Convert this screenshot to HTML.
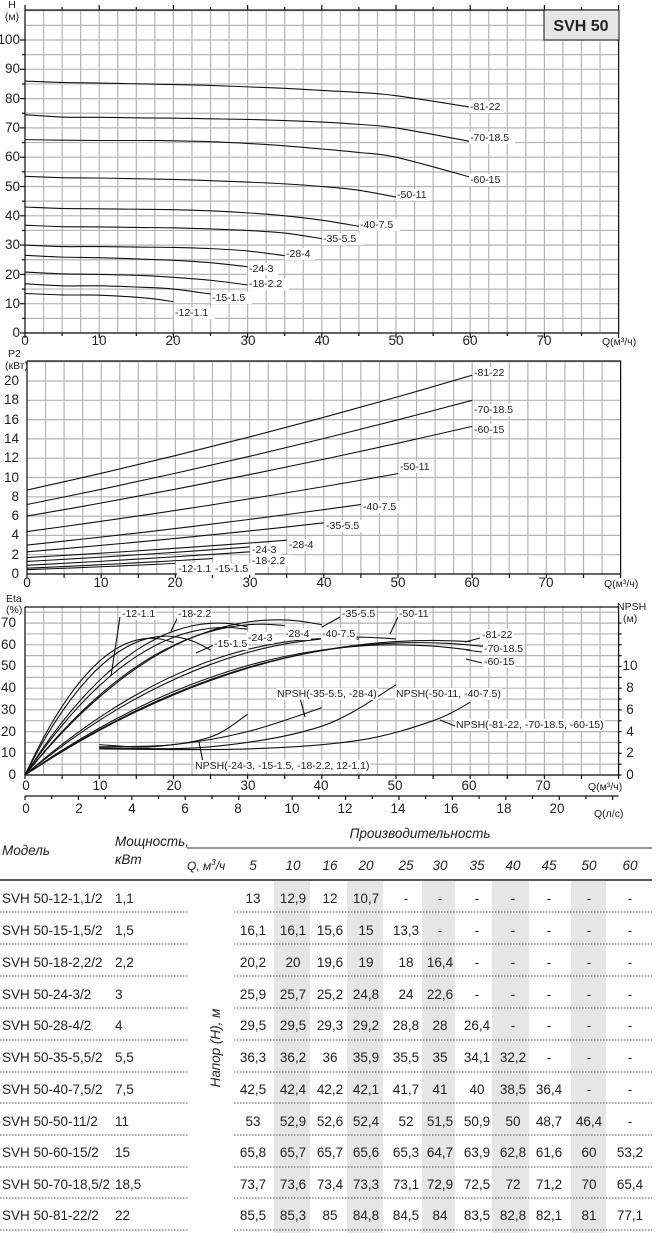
<!DOCTYPE html>
<html><head><meta charset="utf-8"><style>
html,body{margin:0;padding:0;background:#fff}
svg{display:block}
text{font-family:"Liberation Sans",sans-serif;fill:#222}
.s{font-size:10.5px}
.t{font-size:13.5px}
.i{font-style:italic}
</style></head><body>
<svg id="sv" width="656" height="1233" viewBox="0 0 656 1233" xmlns="http://www.w3.org/2000/svg">
<g id="bg"></g>
<g id="grid" stroke="#b4b4b4" stroke-width="1.2"></g>
<g id="curves" fill="none" stroke="#111" stroke-width="1.1"></g>
<g id="axes" stroke="#111" stroke-width="1.2" fill="none"></g>
<g id="lbl"></g>

<rect x="544" y="10" width="75" height="30" fill="#e6e6e6" stroke="#111"/>
<text x="581" y="31" text-anchor="middle" style="font-size:16px;font-weight:bold">SVH 50</text>
<text class="s" x="12" y="8" text-anchor="middle">H</text>
<text class="s" x="12" y="20" text-anchor="middle">(м)</text>
<g class="s" text-anchor="end">
<text x="20" y="337">0</text><text x="20" y="308">10</text><text x="20" y="279">20</text><text x="20" y="249">30</text><text x="20" y="220">40</text><text x="20" y="191">50</text><text x="20" y="161">60</text><text x="20" y="132">70</text><text x="20" y="103">80</text><text x="20" y="73">90</text><text x="20" y="44">100</text>
</g>
<g class="s" text-anchor="middle">
<text x="25" y="345">0</text><text x="99" y="345">10</text><text x="173" y="345">20</text><text x="248" y="345">30</text><text x="322" y="345">40</text><text x="396" y="345">50</text><text x="470" y="345">60</text><text x="544" y="345">70</text>
</g>
<text class="s" x="602" y="345">Q(м³/ч)</text>

<text class="s" x="8" y="357">P2</text>
<text class="s" x="5" y="369">(кВт)</text>
<g class="s" text-anchor="end">
<text x="19" y="578">0</text><text x="19" y="559">2</text><text x="19" y="539">4</text><text x="19" y="520">6</text><text x="19" y="501">8</text><text x="19" y="482">10</text><text x="19" y="462">12</text><text x="19" y="443">14</text><text x="19" y="424">16</text><text x="19" y="404">18</text><text x="19" y="385">20</text>
</g>
<g class="s" text-anchor="middle">
<text x="27" y="587">0</text><text x="101" y="587">10</text><text x="175" y="587">20</text><text x="250" y="587">30</text><text x="324" y="587">40</text><text x="398" y="587">50</text><text x="472" y="587">60</text><text x="546" y="587">70</text>
</g>
<text class="s" x="604" y="587">Q(м³/ч)</text>

<text class="s" x="6" y="602">Eta</text>
<text class="s" x="6" y="613">(%)</text>
<text class="s" x="617" y="610">NPSH</text>
<text class="s" x="623" y="622">(м)</text>
<g class="s" text-anchor="end">
<text x="16" y="779">0</text><text x="16" y="757">10</text><text x="16" y="736">20</text><text x="16" y="714">30</text><text x="16" y="692">40</text><text x="16" y="670">50</text><text x="16" y="649">60</text><text x="16" y="627">70</text>
</g>
<g class="s" text-anchor="middle">
<text x="630" y="779">0</text><text x="630" y="757">2</text><text x="630" y="736">4</text><text x="630" y="714">6</text><text x="630" y="692">8</text><text x="630" y="670">10</text>
</g>
<g class="s" text-anchor="middle">
<text x="26" y="790">0</text><text x="100" y="790">10</text><text x="174" y="790">20</text><text x="248" y="790">30</text><text x="321" y="790">40</text><text x="395" y="790">50</text><text x="469" y="790">60</text><text x="543" y="790">70</text>
</g>
<text class="s" x="588" y="790">Q(м³/ч)</text>
<g class="s" text-anchor="middle">
<text x="26" y="813">0</text><text x="79" y="813">2</text><text x="132" y="813">4</text><text x="185" y="813">6</text><text x="238" y="813">8</text><text x="292" y="813">10</text><text x="345" y="813">12</text><text x="398" y="813">14</text><text x="451" y="813">16</text><text x="504" y="813">18</text><text x="557" y="813">20</text>
</g>
<text class="s" x="594" y="817">Q(л/с)</text>

<g id="tbl"></g>
<g class="t i">
<text x="2" y="855">Модель</text>
<text x="115" y="846">Мощность,</text>
<text x="115" y="864">кВт</text>
<text x="420" y="838" text-anchor="middle">Производительность</text>
<text x="187" y="870" style="font-size:12px">Q, м<tspan dy="-5" style="font-size:8px">3</tspan><tspan dy="5">/ч</tspan></text>
</g>
<text class="t i" transform="translate(220,1048) rotate(-90)" text-anchor="middle">Напор (H), м</text>
</svg>
<script>
var NS="http://www.w3.org/2000/svg";
function el(p,t,a,txt){var e=document.createElementNS(NS,t);for(var k in a)e.setAttribute(k,a[k]);if(txt!==undefined)e.textContent=txt;document.getElementById(p).appendChild(e);return e;}
function line(p,x1,y1,x2,y2,extra){var a={x1:x1,y1:y1,x2:x2,y2:y2};for(var k in extra)a[k]=extra[k];el(p,'line',a);}
var K=7.42;
var TX=function(q){return 25+K*q},TY=function(h){return 333-2.93*h};
for(var q=0;q<=80;q+=2.5)line('grid',TX(q),10,TX(q),333);
for(var h=0;h<=110;h+=5)line('grid',25,TY(h),TX(80),TY(h));
el('axes','path',{d:'M25,10 V333 H'+TX(80)+' V10 H25'});
for(var q=0;q<=80;q+=5){line('axes',TX(q),333,TX(q),q%10?336:338);line('axes',TX(q),10,TX(q),q%10?7:5);}
for(var h=0;h<=100;h+=5)line('axes',25,TY(h),h%10?22:20,TY(h));
function smooth(pts,fx,fy){
 var P=pts.map(function(p){return [fx(p[0]),fy(p[1])]});var s='M'+P[0][0]+','+P[0][1];
 for(var i=0;i<P.length-1;i++){var p0=P[i-1]||P[i],p1=P[i],p2=P[i+1],p3=P[i+2]||p2;
 s+=' C'+(p1[0]+(p2[0]-p0[0])/6)+','+(p1[1]+(p2[1]-p0[1])/6)+' '+(p2[0]-(p3[0]-p1[0])/6)+','+(p2[1]-(p3[1]-p1[1])/6)+' '+p2[0]+','+p2[1];}
 return s;}
var Q=[0,5,10,16,20,25,30,35,40,45,50,60];
var H=[
[86,85.5,85.3,85,84.8,84.5,84,83.5,82.8,82.1,81,77.1],
[74.5,73.7,73.6,73.4,73.3,73.1,72.9,72.5,72,71.2,70,65.4],
[66,65.8,65.7,65.7,65.6,65.3,64.7,63.9,62.8,61.6,60,53.2],
[53.5,53,52.9,52.6,52.4,52,51.5,50.9,50,48.7,46.4],
[43,42.5,42.4,42.2,42.1,41.7,41,40,38.5,36.4],
[36.8,36.3,36.2,36,35.9,35.5,35,34.1,32.2],
[30,29.5,29.5,29.3,29.2,28.8,28,26.4],
[26.5,25.9,25.7,25.2,24.8,24,22.6],
[20.8,20.2,20,19.6,19,18,16.4],
[16.8,16.1,16.1,15.6,15,13.3],
[13.5,13,12.9,12,10.7]];
H.forEach(function(r){var pts=r.map(function(v,i){return [Q[i],v]});el('curves','path',{d:smooth(pts,TX,TY)});});
function lab(x,y,t){var w=t.length*5.4+3;el('lbl','rect',{x:x-1,y:y-9,width:w,height:12,fill:'#fff'});el('lbl','text',{x:x,y:y,'class':'s'},t);}
[[470,110,'-81-22'],[470,141,'-70-18.5'],[470,183,'-60-15'],[397,198,'-50-11'],[360,228,'-40-7.5'],[323,242,'-35-5.5'],[286,257,'-28-4'],[249,272,'-24-3'],[249,287,'-18-2.2'],[212,301,'-15-1.5'],[175,316,'-12-1.1']].forEach(function(a){lab(a[0],a[1],a[2])});
var MX=function(q){return 27+K*q},MY=function(p){return 574-9.65*p};
for(var q=0;q<=80;q+=2.5)line('grid',MX(q),361,MX(q),574);
for(var p=0;p<=22;p+=2)line('grid',27,MY(p),MX(80),MY(p));
el('axes','path',{d:'M27,361 V574 H'+MX(80)+' V361 H27'});
for(var q=0;q<=80;q+=5)line('axes',MX(q),574,MX(q),578);
var P=[[8.7,20.6,60],[7.2,18.0,60],[6.0,15.3,60],[4.4,10.4,50],[3.0,7.2,45],[2.3,5.3,40],[1.7,3.5,35],[1.3,2.8,30],[0.9,2.3,30],[0.6,1.6,25],[0.45,1.1,20]];
P.forEach(function(r){var pts=[];for(var i=0;i<=6;i++){var q=r[2]*i/6,t=i/6;pts.push([q,r[0]+(r[1]-r[0])*(0.85*t+0.15*t*t)]);}el('curves','path',{d:smooth(pts,MX,MY)});});
[[474,376,'-81-22'],[474,413,'-70-18.5'],[474,433,'-60-15'],[400,470,'-50-11'],[363,510,'-40-7.5'],[326,529,'-35-5.5'],[289,548,'-28-4'],[252,553,'-24-3'],[252,564,'-18-2.2'],[178,572,'-12-1.1'],[215,572,'-15-1.5']].forEach(function(a){lab(a[0],a[1],a[2])});
var BX=function(q){return 25+K*q},BY=function(e){return 775-2.17*e},NY=function(m){return 775-10.85*m};
for(var q=0;q<=80;q+=2.5)line('grid',BX(q),607,BX(q),775);
for(var e=0;e<=75;e+=5)line('grid',25,BY(e),BX(80),BY(e));
el('axes','path',{d:'M25,607 V775 H'+BX(80)+' V607 H25'});
for(var q=0;q<=80;q+=5)line('axes',BX(q),775,BX(q),779);
line('axes',25,796,BX(80),796);
for(var l=0;l<=22;l+=1)line('axes',BX(l*3.6),796,BX(l*3.6),l%2?799:800);
for(var m=0;m<=14;m+=1)line('axes',BX(80),NY(m),BX(80)+3,NY(m));
var E=[[63,17,20],[64,19,25],[70,26,30],[68,27,30],[69.5,32,35],[71.5,34,40],[63,42,45],[63.5,45,50],[60,50,60],[61,53,62],[62,55,60]];
E.forEach(function(r){var pts=[];for(var i=0;i<=12;i++){var q=r[2]*i/12,u=1-q/r[1];pts.push([q,r[0]*(1-u*u)]);}el('curves','path',{d:smooth(pts,BX,BY)});});
var N=[[[10,2.8],[17,2.6],[25,3.5],[30,5.6]],[[10,2.6],[20,2.8],[30,4.0],[40,6.2]],[[10,2.5],[25,2.6],[40,4.5],[50,8.3]],[[10,2.4],[30,2.4],[45,3.2],[55,5.0],[60,6.7]]];
N.forEach(function(pts){el('curves','path',{d:smooth(pts,BX,NY)});});
[[120,617,111,676],[178,617,171,631],[214,645,196,653],[340,617,322,627],[398,617,390,634],[480,638,465,642],[482,652,466,650],[482,663,466,659],[300,698,305,717],[455,726,440,720],[203,762,199,742]].forEach(function(a){line('curves',a[0],a[1],a[2],a[3]);});
[[122,617,'-12-1.1'],[178,617,'-18-2.2'],[214,647,'-15-1.5'],[248,641,'-24-3'],[285,637,'-28-4'],[322,637,'-40-7.5'],[342,617,'-35-5.5'],[399,617,'-50-11'],[482,638,'-81-22'],[484,652,'-70-18.5'],[484,665,'-60-15'],[277,697,'NPSH(-35-5.5, -28-4)'],[396,697,'NPSH(-50-11, -40-7.5)'],[456,728,'NPSH(-81-22, -70-18.5, -60-15)'],[195,769,'NPSH(-24-3, -15-1.5, -18-2.2, 12-1.1)']].forEach(function(a){var t=el('lbl','text',{x:a[0],y:a[1],'class':'s'},a[2]);var b=t.getBBox();var r=document.createElementNS(NS,'rect');r.setAttribute('x',b.x-1);r.setAttribute('y',b.y);r.setAttribute('width',b.width+2);r.setAttribute('height',b.height);r.setAttribute('fill','#fff');t.parentNode.insertBefore(r,t);});
[[274,310],[347,383],[422,455],[492,529],[571,606]].forEach(function(c){el('tbl','rect',{x:c[0],y:881,width:c[1]-c[0],height:352,fill:'#e6e6e6'});});
line('tbl',187,848,652,848,{stroke:'#333','stroke-width':1});
line('tbl',0,880,652,880,{stroke:'#222','stroke-width':1.5});
</script>
<div style="position:absolute;left:0;top:0;width:656px;height:1233px">
<svg width="656" height="1233" viewBox="0 0 656 1233" xmlns="http://www.w3.org/2000/svg" style="position:absolute;left:0;top:0">
<style>text{font-family:"Liberation Sans",sans-serif;fill:#222;font-size:13.5px}.v{text-anchor:middle}</style>
<g stroke="#555" stroke-width="1" stroke-dasharray="1.5,1.5">
<line x1="0" y1="912" x2="188" y2="912"/><line x1="234" y1="912" x2="652" y2="912"/>
<line x1="0" y1="944" x2="188" y2="944"/><line x1="234" y1="944" x2="652" y2="944"/>
<line x1="0" y1="976" x2="188" y2="976"/><line x1="234" y1="976" x2="652" y2="976"/>
<line x1="0" y1="1008" x2="188" y2="1008"/><line x1="234" y1="1008" x2="652" y2="1008"/>
<line x1="0" y1="1040" x2="188" y2="1040"/><line x1="234" y1="1040" x2="652" y2="1040"/>
<line x1="0" y1="1072" x2="188" y2="1072"/><line x1="234" y1="1072" x2="652" y2="1072"/>
<line x1="0" y1="1103" x2="188" y2="1103"/><line x1="234" y1="1103" x2="652" y2="1103"/>
<line x1="0" y1="1135" x2="188" y2="1135"/><line x1="234" y1="1135" x2="652" y2="1135"/>
<line x1="0" y1="1167" x2="188" y2="1167"/><line x1="234" y1="1167" x2="652" y2="1167"/>
<line x1="0" y1="1198" x2="188" y2="1198"/><line x1="234" y1="1198" x2="652" y2="1198"/>
<line x1="0" y1="1230" x2="188" y2="1230"/><line x1="234" y1="1230" x2="652" y2="1230"/>
</g>
<g font-style="italic"><text x="253" y="870" class="v">5</text><text x="293" y="870" class="v">10</text><text x="330" y="870" class="v">16</text><text x="366" y="870" class="v">20</text><text x="406" y="870" class="v">25</text><text x="440" y="870" class="v">30</text><text x="477" y="870" class="v">35</text><text x="513" y="870" class="v">40</text><text x="549" y="870" class="v">45</text><text x="589" y="870" class="v">50</text><text x="630" y="870" class="v">60</text></g>
<g>
<text x="2" y="903">SVH 50-12-1,1/2</text><text x="115" y="903">1,1</text>
<text x="2" y="935">SVH 50-15-1,5/2</text><text x="115" y="935">1,5</text>
<text x="2" y="967">SVH 50-18-2,2/2</text><text x="115" y="967">2,2</text>
<text x="2" y="999">SVH 50-24-3/2</text><text x="115" y="999">3</text>
<text x="2" y="1030">SVH 50-28-4/2</text><text x="115" y="1030">4</text>
<text x="2" y="1062">SVH 50-35-5,5/2</text><text x="115" y="1062">5,5</text>
<text x="2" y="1094">SVH 50-40-7,5/2</text><text x="115" y="1094">7,5</text>
<text x="2" y="1126">SVH 50-50-11/2</text><text x="115" y="1126">11</text>
<text x="2" y="1157">SVH 50-60-15/2</text><text x="115" y="1157">15</text>
<text x="2" y="1189">SVH 50-70-18,5/2</text><text x="115" y="1189">18,5</text>
<text x="2" y="1220">SVH 50-81-22/2</text><text x="115" y="1220">22</text>
</g>
<g class="v">
<text x="253" y="903" class="v">13</text><text x="293" y="903" class="v">12,9</text><text x="330" y="903" class="v">12</text><text x="366" y="903" class="v">10,7</text><text x="406" y="903" class="v">-</text><text x="440" y="903" class="v">-</text><text x="477" y="903" class="v">-</text><text x="513" y="903" class="v">-</text><text x="549" y="903" class="v">-</text><text x="589" y="903" class="v">-</text><text x="630" y="903" class="v">-</text>
<text x="253" y="935" class="v">16,1</text><text x="293" y="935" class="v">16,1</text><text x="330" y="935" class="v">15,6</text><text x="366" y="935" class="v">15</text><text x="406" y="935" class="v">13,3</text><text x="440" y="935" class="v">-</text><text x="477" y="935" class="v">-</text><text x="513" y="935" class="v">-</text><text x="549" y="935" class="v">-</text><text x="589" y="935" class="v">-</text><text x="630" y="935" class="v">-</text>
<text x="253" y="967" class="v">20,2</text><text x="293" y="967" class="v">20</text><text x="330" y="967" class="v">19,6</text><text x="366" y="967" class="v">19</text><text x="406" y="967" class="v">18</text><text x="440" y="967" class="v">16,4</text><text x="477" y="967" class="v">-</text><text x="513" y="967" class="v">-</text><text x="549" y="967" class="v">-</text><text x="589" y="967" class="v">-</text><text x="630" y="967" class="v">-</text>
<text x="253" y="999" class="v">25,9</text><text x="293" y="999" class="v">25,7</text><text x="330" y="999" class="v">25,2</text><text x="366" y="999" class="v">24,8</text><text x="406" y="999" class="v">24</text><text x="440" y="999" class="v">22,6</text><text x="477" y="999" class="v">-</text><text x="513" y="999" class="v">-</text><text x="549" y="999" class="v">-</text><text x="589" y="999" class="v">-</text><text x="630" y="999" class="v">-</text>
<text x="253" y="1030" class="v">29,5</text><text x="293" y="1030" class="v">29,5</text><text x="330" y="1030" class="v">29,3</text><text x="366" y="1030" class="v">29,2</text><text x="406" y="1030" class="v">28,8</text><text x="440" y="1030" class="v">28</text><text x="477" y="1030" class="v">26,4</text><text x="513" y="1030" class="v">-</text><text x="549" y="1030" class="v">-</text><text x="589" y="1030" class="v">-</text><text x="630" y="1030" class="v">-</text>
<text x="253" y="1062" class="v">36,3</text><text x="293" y="1062" class="v">36,2</text><text x="330" y="1062" class="v">36</text><text x="366" y="1062" class="v">35,9</text><text x="406" y="1062" class="v">35,5</text><text x="440" y="1062" class="v">35</text><text x="477" y="1062" class="v">34,1</text><text x="513" y="1062" class="v">32,2</text><text x="549" y="1062" class="v">-</text><text x="589" y="1062" class="v">-</text><text x="630" y="1062" class="v">-</text>
<text x="253" y="1094" class="v">42,5</text><text x="293" y="1094" class="v">42,4</text><text x="330" y="1094" class="v">42,2</text><text x="366" y="1094" class="v">42,1</text><text x="406" y="1094" class="v">41,7</text><text x="440" y="1094" class="v">41</text><text x="477" y="1094" class="v">40</text><text x="513" y="1094" class="v">38,5</text><text x="549" y="1094" class="v">36,4</text><text x="589" y="1094" class="v">-</text><text x="630" y="1094" class="v">-</text>
<text x="253" y="1126" class="v">53</text><text x="293" y="1126" class="v">52,9</text><text x="330" y="1126" class="v">52,6</text><text x="366" y="1126" class="v">52,4</text><text x="406" y="1126" class="v">52</text><text x="440" y="1126" class="v">51,5</text><text x="477" y="1126" class="v">50,9</text><text x="513" y="1126" class="v">50</text><text x="549" y="1126" class="v">48,7</text><text x="589" y="1126" class="v">46,4</text><text x="630" y="1126" class="v">-</text>
<text x="253" y="1157" class="v">65,8</text><text x="293" y="1157" class="v">65,7</text><text x="330" y="1157" class="v">65,7</text><text x="366" y="1157" class="v">65,6</text><text x="406" y="1157" class="v">65,3</text><text x="440" y="1157" class="v">64,7</text><text x="477" y="1157" class="v">63,9</text><text x="513" y="1157" class="v">62,8</text><text x="549" y="1157" class="v">61,6</text><text x="589" y="1157" class="v">60</text><text x="630" y="1157" class="v">53,2</text>
<text x="253" y="1189" class="v">73,7</text><text x="293" y="1189" class="v">73,6</text><text x="330" y="1189" class="v">73,4</text><text x="366" y="1189" class="v">73,3</text><text x="406" y="1189" class="v">73,1</text><text x="440" y="1189" class="v">72,9</text><text x="477" y="1189" class="v">72,5</text><text x="513" y="1189" class="v">72</text><text x="549" y="1189" class="v">71,2</text><text x="589" y="1189" class="v">70</text><text x="630" y="1189" class="v">65,4</text>
<text x="253" y="1220" class="v">85,5</text><text x="293" y="1220" class="v">85,3</text><text x="330" y="1220" class="v">85</text><text x="366" y="1220" class="v">84,8</text><text x="406" y="1220" class="v">84,5</text><text x="440" y="1220" class="v">84</text><text x="477" y="1220" class="v">83,5</text><text x="513" y="1220" class="v">82,8</text><text x="549" y="1220" class="v">82,1</text><text x="589" y="1220" class="v">81</text><text x="630" y="1220" class="v">77,1</text>
</g>
</svg>
</div>
</body></html>
